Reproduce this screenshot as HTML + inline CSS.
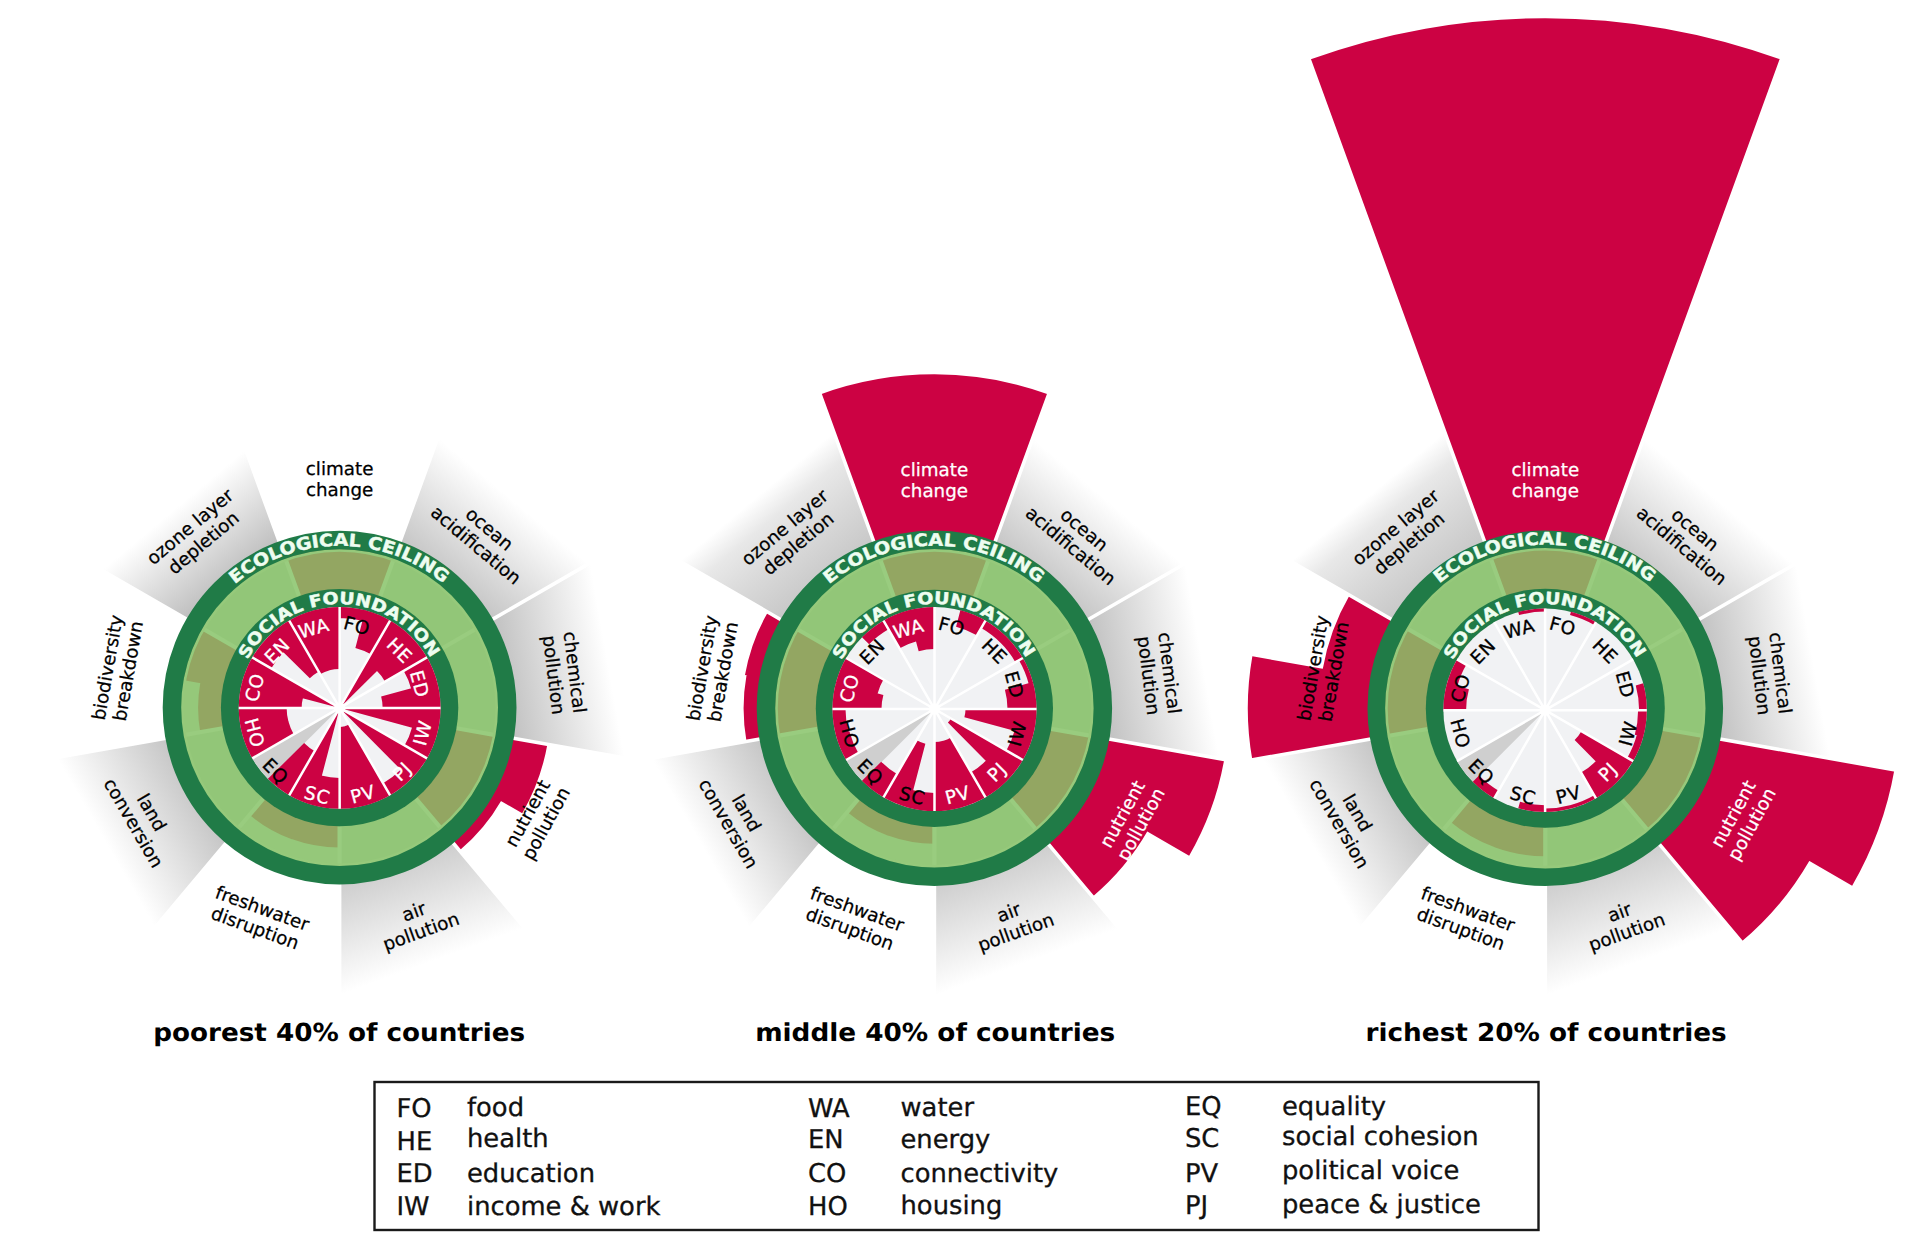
<!DOCTYPE html>
<html lang="en"><head><meta charset="utf-8"><title>Doughnut by country income group</title>
<style>html,body{margin:0;padding:0;background:#fff}body{width:1920px;height:1259px;overflow:hidden}svg{display:block}</style>
</head><body>
<svg width="1920" height="1259" viewBox="0 0 1920 1259" text-rendering="geometricPrecision">
<rect width="1920" height="1259" fill="#fff"/>
<linearGradient id="ga1" gradientUnits="userSpaceOnUse" x1="0" y1="557.6" x2="0" y2="437.6"><stop offset="0" stop-color="#bdbdbd"/><stop offset="1" stop-color="#ffffff"/></linearGradient>
<path transform="rotate(40 339.6 707.6)" d="M238.36 429.45A296 296 0 0 1 440.84 429.45L399.42 543.25A174.9 174.9 0 0 0 279.78 543.25Z" fill="url(#ga1)"/>
<linearGradient id="ga2" gradientUnits="userSpaceOnUse" x1="0" y1="557.6" x2="0" y2="435.6"><stop offset="0" stop-color="#b8b8b8"/><stop offset="1" stop-color="#ffffff"/></linearGradient>
<path transform="rotate(80 339.6 707.6)" d="M238.36 429.45A296 296 0 0 1 440.84 429.45L399.42 543.25A174.9 174.9 0 0 0 279.78 543.25Z" fill="url(#ga2)"/>
<linearGradient id="ga4" gradientUnits="userSpaceOnUse" x1="0" y1="557.6" x2="0" y2="437.6"><stop offset="0" stop-color="#c6c6c6"/><stop offset="1" stop-color="#ffffff"/></linearGradient>
<path transform="rotate(160 339.6 707.6)" d="M238.36 429.45A296 296 0 0 1 440.84 429.45L399.42 543.25A174.9 174.9 0 0 0 279.78 543.25Z" fill="url(#ga4)"/>
<linearGradient id="ga6" gradientUnits="userSpaceOnUse" x1="0" y1="557.6" x2="0" y2="437.6"><stop offset="0" stop-color="#bdbdbd"/><stop offset="1" stop-color="#ffffff"/></linearGradient>
<path transform="rotate(240 339.6 707.6)" d="M238.36 429.45A296 296 0 0 1 440.84 429.45L399.42 543.25A174.9 174.9 0 0 0 279.78 543.25Z" fill="url(#ga6)"/>
<linearGradient id="ga8" gradientUnits="userSpaceOnUse" x1="0" y1="557.6" x2="0" y2="449.6"><stop offset="0" stop-color="#b4b4b4"/><stop offset="1" stop-color="#ffffff"/></linearGradient>
<path transform="rotate(320 339.6 707.6)" d="M238.36 429.45A296 296 0 0 1 440.84 429.45L399.42 543.25A174.9 174.9 0 0 0 279.78 543.25Z" fill="url(#ga8)"/>
<path d="M547.39 744.24A211 211 0 0 1 522.24 813.26L490.99 795.18A174.9 174.9 0 0 0 511.84 737.97ZM501.2 800.71A186.5 186.5 0 0 1 459.48 850.47L452.02 841.58A174.9 174.9 0 0 0 491.14 794.92Z" fill="#cc0243"/>
<path d="M279.78 543.25L236.99 425.69M399.42 543.25L442.21 425.69M491.07 620.15L599.41 557.6M511.84 737.97L635.04 759.69M452.02 841.58L532.44 937.41M339.6 882.5L339.6 1007.6M227.18 841.58L146.76 937.41M167.36 737.97L44.16 759.69M188.13 620.15L79.79 557.6" stroke="#fff" stroke-width="3.6" fill="none"/>
<circle cx="339.6" cy="707.6" r="159.4" fill="#92c678"/>
<path d="M285.08 557.81A159.4 159.4 0 0 1 394.12 557.81L379.51 597.94A116.7 116.7 0 0 0 299.69 597.94ZM496.58 735.28A159.4 159.4 0 0 1 442.06 829.71L414.61 797A116.7 116.7 0 0 0 454.53 727.86ZM339.6 867A159.4 159.4 0 0 1 237.14 829.71L264.59 797A116.7 116.7 0 0 0 339.6 824.3ZM182.62 735.28A159.4 159.4 0 0 1 201.56 627.9L238.53 649.25A116.7 116.7 0 0 0 224.67 727.86Z" fill="#95c87a"/>
<path d="M284.95 557.86A159.4 159.4 0 0 1 339.74 548.2L339.7 590.9A116.7 116.7 0 0 0 299.59 597.97ZM339.46 548.2A159.4 159.4 0 0 1 394.25 557.86L379.61 597.97A116.7 116.7 0 0 0 339.5 590.9ZM496.6 735.14A159.4 159.4 0 0 1 477.57 787.42L440.61 766.04A116.7 116.7 0 0 0 454.54 727.76ZM477.71 787.18A159.4 159.4 0 0 1 441.95 829.8L414.54 797.06A116.7 116.7 0 0 0 440.72 765.86ZM339.72 847.6A140 140 0 0 1 291.6 839.12L299.59 817.23A116.7 116.7 0 0 0 339.7 824.3ZM291.83 839.2A140 140 0 0 1 249.52 814.77L264.51 796.93A116.7 116.7 0 0 0 299.78 817.3ZM200.27 732.29A141.5 141.5 0 0 1 200.27 682.91L224.69 687.23A116.7 116.7 0 0 0 224.69 727.97ZM182.6 680.06A159.4 159.4 0 0 1 201.63 627.78L238.59 649.16A116.7 116.7 0 0 0 224.66 687.44Z" fill="#93a662"/>
<path d="M299 596.06L285.42 558.75M380.2 596.06L393.78 558.75M442.4 648.25L476.78 628.4M456.5 728.21L495.59 735.11M415.9 798.53L441.42 828.94M339.6 826.3L339.6 866M263.3 798.53L237.78 828.94M222.7 728.21L183.61 735.11M236.8 648.25L202.42 628.4" stroke="#99cc7f" stroke-width="4.2" fill="none"/>
<circle cx="339.6" cy="707.6" r="157.1" fill="none" stroke="#96c97b" stroke-width="2.6"/>
<circle cx="339.6" cy="707.6" r="167.65" fill="none" stroke="#207b47" stroke-width="18.5"/>
<circle cx="339.6" cy="707.6" r="118.7" fill="#207b47"/>
<circle cx="339.65" cy="707.9" r="100.9" fill="#f1f2f4"/>
<path d="M339.65 707.9L268.3 779.25A100.9 100.9 0 0 1 252.27 758.35Z" fill="#cfcfcf"/>
<path d="M339.12 607A100.9 100.9 0 0 1 366.27 610.58L363.4 621.09A90 90 0 0 0 339.18 617.9ZM365.25 610.3A100.9 100.9 0 0 1 390.56 620.78L370.93 654.37A62 62 0 0 0 355.38 647.93ZM339.65 707.9L389.64 620.26A100.9 100.9 0 0 1 411.37 636.93ZM410.62 636.18A100.9 100.9 0 0 1 427.29 657.91L385.25 681.89A52.5 52.5 0 0 0 376.58 670.58ZM426.77 656.99A100.9 100.9 0 0 1 437.25 682.3L411.23 689.12A74 74 0 0 0 403.54 670.56ZM436.97 681.28A100.9 100.9 0 0 1 440.55 708.43L382.65 708.13A43 43 0 0 0 381.13 696.55ZM339.65 707.9L440.55 707.37A100.9 100.9 0 0 1 436.97 734.52ZM437.25 733.5A100.9 100.9 0 0 1 426.77 758.81L404.4 745.74A75 75 0 0 0 412.2 726.93ZM339.65 707.9L427.29 757.89A100.9 100.9 0 0 1 410.62 779.62ZM411.37 778.87A100.9 100.9 0 0 1 389.64 795.54L382.75 783.47A87 87 0 0 0 401.49 769.1ZM390.56 795.02A100.9 100.9 0 0 1 365.25 805.5L344.47 726.28A19 19 0 0 0 349.24 724.3ZM366.27 805.22A100.9 100.9 0 0 1 339.12 808.8L339.55 726.9A19 19 0 0 0 344.66 726.23ZM340.18 808.8A100.9 100.9 0 0 1 313.03 805.22L321.18 775.42A70 70 0 0 0 340.02 777.9ZM339.65 707.9L314.05 805.5A100.9 100.9 0 0 1 288.74 795.02ZM289.66 795.54A100.9 100.9 0 0 1 267.93 778.87L304.11 743.07A50 50 0 0 0 314.88 751.33ZM252.53 758.81A100.9 100.9 0 0 1 242.05 733.5L288.38 721.35A53 53 0 0 0 293.89 734.64ZM242.33 734.52A100.9 100.9 0 0 1 238.75 707.37L286.65 707.62A53 53 0 0 0 288.53 721.89ZM238.75 708.43A100.9 100.9 0 0 1 242.33 681.28L303 697.87A38 38 0 0 0 301.65 708.1ZM339.65 707.9L242.05 682.3A100.9 100.9 0 0 1 252.53 656.99ZM252.01 657.91A100.9 100.9 0 0 1 268.68 636.18L284.08 651.75A79 79 0 0 0 271.03 668.76ZM267.93 636.93A100.9 100.9 0 0 1 289.66 620.26L318.84 671.42A42 42 0 0 0 309.8 678.36ZM288.74 620.78A100.9 100.9 0 0 1 314.05 610.3L329.75 670.18A39 39 0 0 0 319.97 674.23ZM313.03 610.58A100.9 100.9 0 0 1 340.18 607L339.85 668.9A39 39 0 0 0 329.36 670.28Z" fill="#cc0243"/>
<path d="M339.65 707.9L339.65 607M339.65 707.9L390.1 620.52M339.65 707.9L427.03 657.45M339.65 707.9L440.55 707.9M339.65 707.9L427.03 758.35M339.65 707.9L390.1 795.28M339.65 707.9L339.65 808.8M339.65 707.9L289.2 795.28M339.65 707.9L252.27 758.35M339.65 707.9L238.75 707.9M339.65 707.9L252.27 657.45M339.65 707.9L289.2 620.52" stroke="#fff" stroke-width="2.5" fill="none"/>
<circle cx="339.65" cy="707.9" r="5.5" fill="#fff"/>
<path id="pea" d="M234.95 584.2A161.8 161.8 0 0 1 443.6 583.65" fill="none"/>
<text font-family="'DejaVu Sans','Liberation Sans',sans-serif" font-weight="bold" font-size="17.2" fill="#eefdf0" stroke="#eefdf0" stroke-width=".45" stroke-linejoin="round"><textPath href="#pea" textLength="226.26" lengthAdjust="spacingAndGlyphs">ECOLOGICAL CEILING</textPath></text>
<path id="psa" d="M247.62 659.92A103.6 103.6 0 0 1 430.73 658.33" fill="none"/>
<text font-family="'DejaVu Sans','Liberation Sans',sans-serif" font-weight="bold" font-size="16.6" fill="#eefdf0" stroke="#eefdf0" stroke-width=".45" stroke-linejoin="round"><textPath href="#psa" textLength="224.07" lengthAdjust="spacingAndGlyphs">SOCIAL FOUNDATION</textPath></text>
<text transform="translate(357.06 625.44) rotate(15)" y="6.7" text-anchor="middle" font-family="'DejaVu Sans','Liberation Sans',sans-serif" font-size="18.4" letter-spacing=".7" fill="#000" stroke="#000" stroke-width=".3">FO</text>
<text transform="translate(399.81 650.47) rotate(45)" y="6.7" text-anchor="middle" font-family="'DejaVu Sans','Liberation Sans',sans-serif" font-size="18.4" letter-spacing=".7" fill="#fff" stroke="#fff" stroke-width=".3">HE</text>
<text transform="translate(419.7 684.02) rotate(75)" y="6.7" text-anchor="middle" font-family="'DejaVu Sans','Liberation Sans',sans-serif" font-size="18.4" letter-spacing=".7" fill="#fff" stroke="#fff" stroke-width=".3">ED</text>
<text transform="translate(422.32 732.89) rotate(-75)" y="6.7" text-anchor="middle" font-family="'DejaVu Sans','Liberation Sans',sans-serif" font-size="18.4" letter-spacing=".7" fill="#fff" stroke="#fff" stroke-width=".3">IW</text>
<text transform="translate(401.87 771.19) rotate(-45)" y="6.7" text-anchor="middle" font-family="'DejaVu Sans','Liberation Sans',sans-serif" font-size="18.4" letter-spacing=".7" fill="#fff" stroke="#fff" stroke-width=".3">PJ</text>
<text transform="translate(362.76 794.05) rotate(-15)" y="6.7" text-anchor="middle" font-family="'DejaVu Sans','Liberation Sans',sans-serif" font-size="18.4" letter-spacing=".7" fill="#fff" stroke="#fff" stroke-width=".3">PV</text>
<text transform="translate(317.37 794.81) rotate(15)" y="6.7" text-anchor="middle" font-family="'DejaVu Sans','Liberation Sans',sans-serif" font-size="18.4" letter-spacing=".7" fill="#fff" stroke="#fff" stroke-width=".3">SC</text>
<text transform="translate(275.74 771.02) rotate(45)" y="6.7" text-anchor="middle" font-family="'DejaVu Sans','Liberation Sans',sans-serif" font-size="18.4" letter-spacing=".7" fill="#000" stroke="#000" stroke-width=".3">EQ</text>
<text transform="translate(254.79 732.88) rotate(75)" y="6.7" text-anchor="middle" font-family="'DejaVu Sans','Liberation Sans',sans-serif" font-size="18.4" letter-spacing=".7" fill="#fff" stroke="#fff" stroke-width=".3">HO</text>
<text transform="translate(254.54 687.49) rotate(-75)" y="6.7" text-anchor="middle" font-family="'DejaVu Sans','Liberation Sans',sans-serif" font-size="18.4" letter-spacing=".7" fill="#fff" stroke="#fff" stroke-width=".3">CO</text>
<text transform="translate(277.1 650.73) rotate(-45)" y="6.7" text-anchor="middle" font-family="'DejaVu Sans','Liberation Sans',sans-serif" font-size="18.4" letter-spacing=".7" fill="#fff" stroke="#fff" stroke-width=".3">EN</text>
<text transform="translate(313.7 627.9) rotate(-15)" y="6.7" text-anchor="middle" font-family="'DejaVu Sans','Liberation Sans',sans-serif" font-size="18.4" letter-spacing=".7" fill="#fff" stroke="#fff" stroke-width=".3">WA</text>
<g transform="translate(339.6 479.6) rotate(0)" text-anchor="middle" font-family="'DejaVu Sans','Liberation Sans',sans-serif" font-size="18.3" fill="#000" stroke="#000" stroke-width=".25"><text y="-4.5">climate</text><text y="16.5">change</text></g>
<g transform="translate(482.49 537.31) rotate(40)" text-anchor="middle" font-family="'DejaVu Sans','Liberation Sans',sans-serif" font-size="18.3" fill="#000" stroke="#000" stroke-width=".25"><text y="-4.5">ocean</text><text y="16.5">acidification</text></g>
<g transform="translate(564.05 673.66) rotate(83)" text-anchor="middle" font-family="'DejaVu Sans','Liberation Sans',sans-serif" font-size="18.3" fill="#000" stroke="#000" stroke-width=".25"><text y="-4.5">chemical</text><text y="16.5">pollution</text></g>
<g transform="translate(537.03 818.62) rotate(-61.3)" text-anchor="middle" font-family="'DejaVu Sans','Liberation Sans',sans-serif" font-size="18.3" fill="#000" stroke="#000" stroke-width=".25"><text y="-4.5">nutrient</text><text y="16.5">pollution</text></g>
<g transform="translate(417.58 921.85) rotate(-20)" text-anchor="middle" font-family="'DejaVu Sans','Liberation Sans',sans-serif" font-size="18.3" fill="#000" stroke="#000" stroke-width=".25"><text y="-4.5">air</text><text y="16.5">pollution</text></g>
<g transform="translate(258.61 918.59) rotate(20)" text-anchor="middle" font-family="'DejaVu Sans','Liberation Sans',sans-serif" font-size="18.3" fill="#000" stroke="#000" stroke-width=".25"><text y="-4.5">freshwater</text><text y="16.5">disruption</text></g>
<g transform="translate(142.32 817.86) rotate(60)" text-anchor="middle" font-family="'DejaVu Sans','Liberation Sans',sans-serif" font-size="18.3" fill="#000" stroke="#000" stroke-width=".25"><text y="-4.5">land</text><text y="16.5">conversion</text></g>
<g transform="translate(118.08 669.34) rotate(-80)" text-anchor="middle" font-family="'DejaVu Sans','Liberation Sans',sans-serif" font-size="18.3" fill="#000" stroke="#000" stroke-width=".25"><text y="-4.5">biodiversity</text><text y="16.5">breakdown</text></g>
<g transform="translate(196.82 535.01) rotate(-40)" text-anchor="middle" font-family="'DejaVu Sans','Liberation Sans',sans-serif" font-size="18.3" fill="#000" stroke="#000" stroke-width=".25"><text y="-4.5">ozone layer</text><text y="16.5">depletion</text></g>
<linearGradient id="gb1" gradientUnits="userSpaceOnUse" x1="0" y1="558.3" x2="0" y2="438.3"><stop offset="0" stop-color="#bdbdbd"/><stop offset="1" stop-color="#ffffff"/></linearGradient>
<path transform="rotate(40 934.4 708.3)" d="M833.16 430.15A296 296 0 0 1 1035.64 430.15L994.49 543.2A175.7 175.7 0 0 0 874.31 543.2Z" fill="url(#gb1)"/>
<linearGradient id="gb2" gradientUnits="userSpaceOnUse" x1="0" y1="558.3" x2="0" y2="436.3"><stop offset="0" stop-color="#b8b8b8"/><stop offset="1" stop-color="#ffffff"/></linearGradient>
<path transform="rotate(80 934.4 708.3)" d="M833.16 430.15A296 296 0 0 1 1035.64 430.15L994.49 543.2A175.7 175.7 0 0 0 874.31 543.2Z" fill="url(#gb2)"/>
<linearGradient id="gb4" gradientUnits="userSpaceOnUse" x1="0" y1="558.3" x2="0" y2="438.3"><stop offset="0" stop-color="#c6c6c6"/><stop offset="1" stop-color="#ffffff"/></linearGradient>
<path transform="rotate(160 934.4 708.3)" d="M833.16 430.15A296 296 0 0 1 1035.64 430.15L994.49 543.2A175.7 175.7 0 0 0 874.31 543.2Z" fill="url(#gb4)"/>
<linearGradient id="gb6" gradientUnits="userSpaceOnUse" x1="0" y1="558.3" x2="0" y2="438.3"><stop offset="0" stop-color="#bdbdbd"/><stop offset="1" stop-color="#ffffff"/></linearGradient>
<path transform="rotate(240 934.4 708.3)" d="M833.16 430.15A296 296 0 0 1 1035.64 430.15L994.49 543.2A175.7 175.7 0 0 0 874.31 543.2Z" fill="url(#gb6)"/>
<linearGradient id="gb8" gradientUnits="userSpaceOnUse" x1="0" y1="558.3" x2="0" y2="432.3"><stop offset="0" stop-color="#c2c2c2"/><stop offset="0.52" stop-color="#dadada"/><stop offset="0.79" stop-color="#e8e8e8"/><stop offset="1" stop-color="#ffffff"/></linearGradient>
<path transform="rotate(320 934.4 708.3)" d="M833.16 430.15A296 296 0 0 1 1035.64 430.15L994.49 543.2A175.7 175.7 0 0 0 874.31 543.2Z" fill="url(#gb8)"/>
<path d="M820.17 394.44A334 334 0 0 1 1048.63 394.44L994.49 543.2A175.7 175.7 0 0 0 874.31 543.2ZM1224.23 759.4A294.3 294.3 0 0 1 1189.14 855.67L1086.48 796.28A175.7 175.7 0 0 0 1107.43 738.81ZM1147.55 831.11A246 246 0 0 1 1092.53 896.75L1047.34 842.89A175.7 175.7 0 0 0 1086.64 796.02ZM746.5 741.43A190.8 190.8 0 0 1 746.53 675L761.4 677.64A175.7 175.7 0 0 0 761.37 738.81ZM744.99 675.07A192.3 192.3 0 0 1 767.86 612.15L782.24 620.45A175.7 175.7 0 0 0 761.34 677.94Z" fill="#cc0243"/>
<path d="M874.31 543.2L819.82 393.5M994.49 543.2L1048.98 393.5M1086.56 620.45L1194.21 558.3M1107.43 738.81L1229.84 760.39M1047.34 842.89L1127.24 938.11M934.4 884L934.4 1008.3M821.46 842.89L741.56 938.11M761.37 738.81L638.96 760.39M782.24 620.45L674.59 558.3" stroke="#fff" stroke-width="3.6" fill="none"/>
<circle cx="934.4" cy="708.3" r="160.2" fill="#92c678"/>
<path d="M879.61 557.76A160.2 160.2 0 0 1 989.19 557.76L974.28 598.73A116.6 116.6 0 0 0 894.52 598.73ZM1092.17 736.12A160.2 160.2 0 0 1 1037.37 831.02L1009.35 797.62A116.6 116.6 0 0 0 1049.23 728.55ZM934.4 868.5A160.2 160.2 0 0 1 831.43 831.02L859.45 797.62A116.6 116.6 0 0 0 934.4 824.9ZM776.63 736.12A160.2 160.2 0 0 1 795.66 628.2L833.42 650A116.6 116.6 0 0 0 819.57 728.55Z" fill="#95c87a"/>
<path d="M879.48 557.81A160.2 160.2 0 0 1 934.54 548.1L934.5 591.7A116.6 116.6 0 0 0 894.42 598.77ZM934.26 548.1A160.2 160.2 0 0 1 989.32 557.81L974.38 598.77A116.6 116.6 0 0 0 934.3 591.7ZM1092.19 735.98A160.2 160.2 0 0 1 1073.07 788.52L1035.33 766.69A116.6 116.6 0 0 0 1049.25 728.45ZM1073.21 788.28A160.2 160.2 0 0 1 1037.27 831.11L1009.27 797.69A116.6 116.6 0 0 0 1035.43 766.51ZM934.52 843.8A135.5 135.5 0 0 1 887.95 835.59L894.42 817.83A116.6 116.6 0 0 0 934.5 824.9ZM888.17 835.67A135.5 135.5 0 0 1 847.21 812.02L859.37 797.56A116.6 116.6 0 0 0 894.62 817.9ZM776.66 736.26A160.2 160.2 0 0 1 776.66 680.34L819.59 687.95A116.6 116.6 0 0 0 819.59 728.65ZM776.61 680.62A160.2 160.2 0 0 1 795.73 628.08L833.47 649.91A116.6 116.6 0 0 0 819.55 688.15Z" fill="#93a662"/>
<path d="M893.84 596.85L879.95 558.7M974.96 596.85L988.85 558.7M1037.11 649L1072.27 628.7M1051.2 728.89L1091.18 735.94M1010.63 799.15L1036.73 830.25M934.4 826.9L934.4 867.5M858.17 799.15L832.07 830.25M817.6 728.89L777.62 735.94M831.69 649L796.53 628.7" stroke="#99cc7f" stroke-width="4.2" fill="none"/>
<circle cx="934.4" cy="708.3" r="157.9" fill="none" stroke="#96c97b" stroke-width="2.6"/>
<circle cx="934.4" cy="708.3" r="168.45" fill="none" stroke="#207b47" stroke-width="18.5"/>
<circle cx="934.4" cy="708.3" r="118.6" fill="#207b47"/>
<circle cx="934.5" cy="709" r="102" fill="#f1f2f4"/>
<path d="M934.5 709L862.38 781.12A102 102 0 0 1 846.17 760Z" fill="#cfcfcf"/>
<path d="M960.38 610.34A102 102 0 0 1 985.96 620.93L977.38 635.61A85 85 0 0 0 956.07 626.78ZM985.04 620.4A102 102 0 0 1 1007 637.25L1000.96 643.23A93.5 93.5 0 0 0 980.83 627.78ZM1006.25 636.5A102 102 0 0 1 1023.1 658.46L1015.72 662.67A93.5 93.5 0 0 0 1000.27 642.54ZM1022.57 657.54A102 102 0 0 1 1033.16 683.12L1028.81 684.26A97.5 97.5 0 0 0 1018.68 659.81ZM1032.88 682.08A102 102 0 0 1 1036.5 709.53L1007.5 709.38A73 73 0 0 0 1004.91 689.74ZM1036.5 708.47A102 102 0 0 1 1032.88 735.92L964.4 717.18A31 31 0 0 0 965.5 708.84ZM1033.16 734.88A102 102 0 0 1 1022.57 760.46L1006.16 750.88A83 83 0 0 0 1014.78 730.06ZM1023.1 759.54A102 102 0 0 1 1006.25 781.5L947.86 722.51A19 19 0 0 0 951 718.41ZM1007 780.75A102 102 0 0 1 985.04 797.6L970.67 772.41A73 73 0 0 0 986.39 760.35ZM985.96 797.07A102 102 0 0 1 960.38 807.66L942.87 740.92A33 33 0 0 0 951.15 737.49ZM961.42 807.38A102 102 0 0 1 933.97 811L934.33 742A33 33 0 0 0 943.21 740.83ZM935.03 811A102 102 0 0 1 907.58 807.38L912.33 790.02A84 84 0 0 0 934.94 793ZM908.62 807.66A102 102 0 0 1 883.04 797.07L916.34 740.08A36 36 0 0 0 925.36 743.82ZM883.96 797.6A102 102 0 0 1 862 780.75L881.19 761.75A75 75 0 0 0 897.34 774.15ZM846.43 760.46A102 102 0 0 1 835.84 734.88L849.38 731.33A88 88 0 0 0 858.52 753.4ZM836.12 735.92A102 102 0 0 1 832.5 708.47L845.5 708.53A89 89 0 0 0 848.65 732.48ZM832.5 709.53A102 102 0 0 1 836.12 682.08L883.38 695.01A53 53 0 0 0 881.5 709.28ZM835.84 683.12A102 102 0 0 1 846.43 657.54L883.56 679.23A59 59 0 0 0 877.43 694.03ZM862 637.25A102 102 0 0 1 883.96 620.4L888.92 629.09A92 92 0 0 0 869.11 644.29ZM883.04 620.93A102 102 0 0 1 908.62 610.34L916.74 641.29A70 70 0 0 0 899.18 648.56ZM907.58 610.62A102 102 0 0 1 935.03 607L934.81 649A60 60 0 0 0 918.67 651.13Z" fill="#cc0243"/>
<path d="M934.5 709L934.5 607M934.5 709L985.5 620.67M934.5 709L1022.83 658M934.5 709L1036.5 709M934.5 709L1022.83 760M934.5 709L985.5 797.33M934.5 709L934.5 811M934.5 709L883.5 797.33M934.5 709L846.17 760M934.5 709L832.5 709M934.5 709L846.17 658M934.5 709L883.5 620.67" stroke="#fff" stroke-width="2.5" fill="none"/>
<circle cx="934.5" cy="709" r="5.5" fill="#fff"/>
<path id="peb" d="M829.23 584.29A162.6 162.6 0 0 1 1038.92 583.74" fill="none"/>
<text font-family="'DejaVu Sans','Liberation Sans',sans-serif" font-weight="bold" font-size="17.2" fill="#eefdf0" stroke="#eefdf0" stroke-width=".45" stroke-linejoin="round"><textPath href="#peb" textLength="227.38" lengthAdjust="spacingAndGlyphs">ECOLOGICAL CEILING</textPath></text>
<path id="psb" d="M841.71 660.26A104.4 104.4 0 0 1 1026.24 658.64" fill="none"/>
<text font-family="'DejaVu Sans','Liberation Sans',sans-serif" font-weight="bold" font-size="16.6" fill="#eefdf0" stroke="#eefdf0" stroke-width=".45" stroke-linejoin="round"><textPath href="#psb" textLength="225.81" lengthAdjust="spacingAndGlyphs">SOCIAL FOUNDATION</textPath></text>
<text transform="translate(951.86 626.14) rotate(15)" y="6.7" text-anchor="middle" font-family="'DejaVu Sans','Liberation Sans',sans-serif" font-size="18.4" letter-spacing=".7" fill="#000" stroke="#000" stroke-width=".3">FO</text>
<text transform="translate(994.61 651.17) rotate(45)" y="6.7" text-anchor="middle" font-family="'DejaVu Sans','Liberation Sans',sans-serif" font-size="18.4" letter-spacing=".7" fill="#000" stroke="#000" stroke-width=".3">HE</text>
<text transform="translate(1014.5 684.72) rotate(75)" y="6.7" text-anchor="middle" font-family="'DejaVu Sans','Liberation Sans',sans-serif" font-size="18.4" letter-spacing=".7" fill="#000" stroke="#000" stroke-width=".3">ED</text>
<text transform="translate(1017.12 733.59) rotate(-75)" y="6.7" text-anchor="middle" font-family="'DejaVu Sans','Liberation Sans',sans-serif" font-size="18.4" letter-spacing=".7" fill="#000" stroke="#000" stroke-width=".3">IW</text>
<text transform="translate(996.67 771.89) rotate(-45)" y="6.7" text-anchor="middle" font-family="'DejaVu Sans','Liberation Sans',sans-serif" font-size="18.4" letter-spacing=".7" fill="#fff" stroke="#fff" stroke-width=".3">PJ</text>
<text transform="translate(957.56 794.75) rotate(-15)" y="6.7" text-anchor="middle" font-family="'DejaVu Sans','Liberation Sans',sans-serif" font-size="18.4" letter-spacing=".7" fill="#fff" stroke="#fff" stroke-width=".3">PV</text>
<text transform="translate(912.17 795.51) rotate(15)" y="6.7" text-anchor="middle" font-family="'DejaVu Sans','Liberation Sans',sans-serif" font-size="18.4" letter-spacing=".7" fill="#000" stroke="#000" stroke-width=".3">SC</text>
<text transform="translate(870.54 771.72) rotate(45)" y="6.7" text-anchor="middle" font-family="'DejaVu Sans','Liberation Sans',sans-serif" font-size="18.4" letter-spacing=".7" fill="#000" stroke="#000" stroke-width=".3">EQ</text>
<text transform="translate(849.59 733.58) rotate(75)" y="6.7" text-anchor="middle" font-family="'DejaVu Sans','Liberation Sans',sans-serif" font-size="18.4" letter-spacing=".7" fill="#000" stroke="#000" stroke-width=".3">HO</text>
<text transform="translate(849.34 688.19) rotate(-75)" y="6.7" text-anchor="middle" font-family="'DejaVu Sans','Liberation Sans',sans-serif" font-size="18.4" letter-spacing=".7" fill="#fff" stroke="#fff" stroke-width=".3">CO</text>
<text transform="translate(871.9 651.43) rotate(-45)" y="6.7" text-anchor="middle" font-family="'DejaVu Sans','Liberation Sans',sans-serif" font-size="18.4" letter-spacing=".7" fill="#000" stroke="#000" stroke-width=".3">EN</text>
<text transform="translate(908.5 628.6) rotate(-15)" y="6.7" text-anchor="middle" font-family="'DejaVu Sans','Liberation Sans',sans-serif" font-size="18.4" letter-spacing=".7" fill="#fff" stroke="#fff" stroke-width=".3">WA</text>
<g transform="translate(934.4 480.3) rotate(0)" text-anchor="middle" font-family="'DejaVu Sans','Liberation Sans',sans-serif" font-size="18.3" fill="#fff" stroke="#fff" stroke-width=".25"><text y="-4.5">climate</text><text y="16.5">change</text></g>
<g transform="translate(1077.29 538.01) rotate(40)" text-anchor="middle" font-family="'DejaVu Sans','Liberation Sans',sans-serif" font-size="18.3" fill="#000" stroke="#000" stroke-width=".25"><text y="-4.5">ocean</text><text y="16.5">acidification</text></g>
<g transform="translate(1158.85 674.36) rotate(83)" text-anchor="middle" font-family="'DejaVu Sans','Liberation Sans',sans-serif" font-size="18.3" fill="#000" stroke="#000" stroke-width=".25"><text y="-4.5">chemical</text><text y="16.5">pollution</text></g>
<g transform="translate(1131.83 819.32) rotate(-61.3)" text-anchor="middle" font-family="'DejaVu Sans','Liberation Sans',sans-serif" font-size="18.3" fill="#fff" stroke="#fff" stroke-width=".25"><text y="-4.5">nutrient</text><text y="16.5">pollution</text></g>
<g transform="translate(1012.38 922.55) rotate(-20)" text-anchor="middle" font-family="'DejaVu Sans','Liberation Sans',sans-serif" font-size="18.3" fill="#000" stroke="#000" stroke-width=".25"><text y="-4.5">air</text><text y="16.5">pollution</text></g>
<g transform="translate(853.41 919.29) rotate(20)" text-anchor="middle" font-family="'DejaVu Sans','Liberation Sans',sans-serif" font-size="18.3" fill="#000" stroke="#000" stroke-width=".25"><text y="-4.5">freshwater</text><text y="16.5">disruption</text></g>
<g transform="translate(737.12 818.56) rotate(60)" text-anchor="middle" font-family="'DejaVu Sans','Liberation Sans',sans-serif" font-size="18.3" fill="#000" stroke="#000" stroke-width=".25"><text y="-4.5">land</text><text y="16.5">conversion</text></g>
<g transform="translate(712.88 670.04) rotate(-80)" text-anchor="middle" font-family="'DejaVu Sans','Liberation Sans',sans-serif" font-size="18.3" fill="#000" stroke="#000" stroke-width=".25"><text y="-4.5">biodiversity</text><text y="16.5">breakdown</text></g>
<g transform="translate(791.62 535.71) rotate(-40)" text-anchor="middle" font-family="'DejaVu Sans','Liberation Sans',sans-serif" font-size="18.3" fill="#000" stroke="#000" stroke-width=".25"><text y="-4.5">ozone layer</text><text y="16.5">depletion</text></g>
<linearGradient id="gc1" gradientUnits="userSpaceOnUse" x1="0" y1="558.2" x2="0" y2="438.2"><stop offset="0" stop-color="#bdbdbd"/><stop offset="1" stop-color="#ffffff"/></linearGradient>
<path transform="rotate(40 1545.3 708.2)" d="M1444.06 430.05A296 296 0 0 1 1646.54 430.05L1605.43 543A175.8 175.8 0 0 0 1485.17 543Z" fill="url(#gc1)"/>
<linearGradient id="gc2" gradientUnits="userSpaceOnUse" x1="0" y1="558.2" x2="0" y2="436.2"><stop offset="0" stop-color="#b8b8b8"/><stop offset="1" stop-color="#ffffff"/></linearGradient>
<path transform="rotate(80 1545.3 708.2)" d="M1444.06 430.05A296 296 0 0 1 1646.54 430.05L1605.43 543A175.8 175.8 0 0 0 1485.17 543Z" fill="url(#gc2)"/>
<linearGradient id="gc4" gradientUnits="userSpaceOnUse" x1="0" y1="558.2" x2="0" y2="438.2"><stop offset="0" stop-color="#c6c6c6"/><stop offset="1" stop-color="#ffffff"/></linearGradient>
<path transform="rotate(160 1545.3 708.2)" d="M1444.06 430.05A296 296 0 0 1 1646.54 430.05L1605.43 543A175.8 175.8 0 0 0 1485.17 543Z" fill="url(#gc4)"/>
<linearGradient id="gc6" gradientUnits="userSpaceOnUse" x1="0" y1="558.2" x2="0" y2="438.2"><stop offset="0" stop-color="#bdbdbd"/><stop offset="1" stop-color="#ffffff"/></linearGradient>
<path transform="rotate(240 1545.3 708.2)" d="M1444.06 430.05A296 296 0 0 1 1646.54 430.05L1605.43 543A175.8 175.8 0 0 0 1485.17 543Z" fill="url(#gc6)"/>
<linearGradient id="gc8" gradientUnits="userSpaceOnUse" x1="0" y1="558.2" x2="0" y2="432.2"><stop offset="0" stop-color="#c2c2c2"/><stop offset="0.52" stop-color="#dadada"/><stop offset="0.79" stop-color="#e8e8e8"/><stop offset="1" stop-color="#ffffff"/></linearGradient>
<path transform="rotate(320 1545.3 708.2)" d="M1444.06 430.05A296 296 0 0 1 1646.54 430.05L1605.43 543A175.8 175.8 0 0 0 1485.17 543Z" fill="url(#gc8)"/>
<path d="M1309.31 59.81A690 690 0 0 1 1781.29 59.81L1605.43 543A175.8 175.8 0 0 0 1485.17 543ZM1894.41 769.76A354.5 354.5 0 0 1 1852.15 885.72L1697.47 796.23A175.8 175.8 0 0 0 1718.43 738.73ZM1809.57 860.47A305 305 0 0 1 1741.35 941.84L1658.3 842.87A175.8 175.8 0 0 0 1697.62 795.97ZM1252.32 759.86A297.5 297.5 0 0 1 1252.36 656.28L1372.2 677.52A175.8 175.8 0 0 0 1372.17 738.73ZM1322.7 669.15A226 226 0 0 1 1349.58 595.2L1393.05 620.3A175.8 175.8 0 0 0 1372.14 677.82Z" fill="#cc0243"/>
<path d="M1485.17 543L1308.96 58.87M1605.43 543L1781.64 58.87M1697.55 620.3L1805.11 558.2M1718.43 738.73L1895.4 769.93M1658.3 842.87L1741.99 942.61M1545.3 884L1545.3 1008.2M1432.3 842.87L1352.46 938.01M1372.17 738.73L1249.86 760.29M1393.05 620.3L1285.49 558.2" stroke="#fff" stroke-width="3.6" fill="none"/>
<circle cx="1545.3" cy="708.2" r="161.2" fill="#92c678"/>
<path d="M1490.17 556.72A161.2 161.2 0 0 1 1600.43 556.72L1585.49 597.79A117.5 117.5 0 0 0 1505.11 597.79ZM1704.05 736.19A161.2 161.2 0 0 1 1648.92 831.69L1620.83 798.21A117.5 117.5 0 0 0 1661.01 728.6ZM1545.3 869.4A161.2 161.2 0 0 1 1441.68 831.69L1469.77 798.21A117.5 117.5 0 0 0 1545.3 825.7ZM1386.55 736.19A161.2 161.2 0 0 1 1405.7 627.6L1443.54 649.45A117.5 117.5 0 0 0 1429.59 728.6Z" fill="#95c87a"/>
<path d="M1490.03 556.77A161.2 161.2 0 0 1 1545.44 547L1545.4 590.7A117.5 117.5 0 0 0 1505.02 597.82ZM1545.16 547A161.2 161.2 0 0 1 1600.57 556.77L1585.58 597.82A117.5 117.5 0 0 0 1545.2 590.7ZM1704.08 736.05A161.2 161.2 0 0 1 1684.83 788.92L1647.01 767.04A117.5 117.5 0 0 0 1661.03 728.5ZM1684.97 788.68A161.2 161.2 0 0 1 1648.81 831.78L1620.75 798.28A117.5 117.5 0 0 0 1647.11 766.86ZM1545.43 856.2A148 148 0 0 1 1494.56 847.23L1505.02 818.58A117.5 117.5 0 0 0 1545.4 825.7ZM1494.8 847.32A148 148 0 0 1 1450.07 821.49L1469.69 798.14A117.5 117.5 0 0 0 1505.21 818.65ZM1386.57 736.33A161.2 161.2 0 0 1 1386.57 680.07L1429.6 687.7A117.5 117.5 0 0 0 1429.6 728.7ZM1386.52 680.35A161.2 161.2 0 0 1 1405.77 627.48L1443.59 649.36A117.5 117.5 0 0 0 1429.57 687.9Z" fill="#93a662"/>
<path d="M1504.43 595.91L1490.51 557.66M1586.17 595.91L1600.09 557.66M1648.79 648.45L1684.04 628.1M1662.98 728.95L1703.07 736.02M1622.11 799.74L1648.27 830.92M1545.3 827.7L1545.3 868.4M1468.49 799.74L1442.33 830.92M1427.62 728.95L1387.53 736.02M1441.81 648.45L1406.56 628.1" stroke="#99cc7f" stroke-width="4.2" fill="none"/>
<circle cx="1545.3" cy="708.2" r="158.9" fill="none" stroke="#96c97b" stroke-width="2.6"/>
<circle cx="1545.3" cy="708.2" r="169" fill="none" stroke="#207b47" stroke-width="17.6"/>
<circle cx="1545.3" cy="708.2" r="119.5" fill="#207b47"/>
<circle cx="1545.1" cy="710.2" r="101.7" fill="#f1f2f4"/>
<path d="M1545.1 710.2L1473.19 782.11A101.7 101.7 0 0 1 1457.03 761.05Z" fill="#cfcfcf"/>
<path d="M1570.91 611.83A101.7 101.7 0 0 1 1596.41 622.39L1594.7 625.33A98.3 98.3 0 0 0 1570.04 615.12ZM1643.2 683.36A101.7 101.7 0 0 1 1646.8 710.73L1639.1 710.69A94 94 0 0 0 1635.77 685.4ZM1646.8 709.67A101.7 101.7 0 0 1 1643.2 737.04L1634.8 734.74A93 93 0 0 0 1638.1 709.71ZM1643.47 736.01A101.7 101.7 0 0 1 1632.91 761.51L1627.12 758.13A95 95 0 0 0 1636.99 734.31ZM1633.44 760.59A101.7 101.7 0 0 1 1616.64 782.49L1574.64 740.05A42 42 0 0 0 1581.58 731.01ZM1617.39 781.74A101.7 101.7 0 0 1 1595.49 798.54L1580.77 772.74A72 72 0 0 0 1596.28 760.84ZM1596.41 798.01A101.7 101.7 0 0 1 1570.91 808.57L1570.04 805.28A98.3 98.3 0 0 0 1594.7 795.07ZM1571.94 808.3A101.7 101.7 0 0 1 1544.57 811.9L1544.59 808.5A98.3 98.3 0 0 0 1571.04 805.02ZM1545.63 811.9A101.7 101.7 0 0 1 1518.26 808.3L1520.03 801.83A95 95 0 0 0 1545.6 805.2ZM1494.71 798.54A101.7 101.7 0 0 1 1472.81 781.74L1479 775.62A93 93 0 0 0 1499.02 790.98ZM1443.4 710.73A101.7 101.7 0 0 1 1447 683.36L1468.9 689.35A79 79 0 0 0 1466.1 710.61ZM1446.73 684.39A101.7 101.7 0 0 1 1457.29 658.89L1466.53 664.29A91 91 0 0 0 1457.08 687.11ZM1518.26 612.1A101.7 101.7 0 0 1 1545.63 608.5L1545.62 611.6A98.6 98.6 0 0 0 1519.08 615.09Z" fill="#cc0243"/>
<path d="M1545.1 710.2L1545.1 608.5M1545.1 710.2L1595.95 622.13M1545.1 710.2L1633.17 659.35M1545.1 710.2L1646.8 710.2M1545.1 710.2L1633.17 761.05M1545.1 710.2L1595.95 798.27M1545.1 710.2L1545.1 811.9M1545.1 710.2L1494.25 798.27M1545.1 710.2L1457.03 761.05M1545.1 710.2L1443.4 710.2M1545.1 710.2L1457.03 659.35M1545.1 710.2L1494.25 622.13" stroke="#fff" stroke-width="2.5" fill="none"/>
<circle cx="1545.1" cy="710.2" r="5.5" fill="#fff"/>
<path id="pec" d="M1439.49 583.43A163.6 163.6 0 0 1 1650.46 582.88" fill="none"/>
<text font-family="'DejaVu Sans','Liberation Sans',sans-serif" font-weight="bold" font-size="17.2" fill="#eefdf0" stroke="#eefdf0" stroke-width=".45" stroke-linejoin="round"><textPath href="#pec" textLength="228.79" lengthAdjust="spacingAndGlyphs">ECOLOGICAL CEILING</textPath></text>
<path id="psc" d="M1452.88 660.29A104.1 104.1 0 0 1 1636.87 658.69" fill="none"/>
<text font-family="'DejaVu Sans','Liberation Sans',sans-serif" font-weight="bold" font-size="16.6" fill="#eefdf0" stroke="#eefdf0" stroke-width=".45" stroke-linejoin="round"><textPath href="#psc" textLength="225.16" lengthAdjust="spacingAndGlyphs">SOCIAL FOUNDATION</textPath></text>
<text transform="translate(1562.76 626.04) rotate(15)" y="6.7" text-anchor="middle" font-family="'DejaVu Sans','Liberation Sans',sans-serif" font-size="18.4" letter-spacing=".7" fill="#000" stroke="#000" stroke-width=".3">FO</text>
<text transform="translate(1605.51 651.07) rotate(45)" y="6.7" text-anchor="middle" font-family="'DejaVu Sans','Liberation Sans',sans-serif" font-size="18.4" letter-spacing=".7" fill="#000" stroke="#000" stroke-width=".3">HE</text>
<text transform="translate(1625.4 684.62) rotate(75)" y="6.7" text-anchor="middle" font-family="'DejaVu Sans','Liberation Sans',sans-serif" font-size="18.4" letter-spacing=".7" fill="#000" stroke="#000" stroke-width=".3">ED</text>
<text transform="translate(1628.02 733.49) rotate(-75)" y="6.7" text-anchor="middle" font-family="'DejaVu Sans','Liberation Sans',sans-serif" font-size="18.4" letter-spacing=".7" fill="#000" stroke="#000" stroke-width=".3">IW</text>
<text transform="translate(1607.57 771.79) rotate(-45)" y="6.7" text-anchor="middle" font-family="'DejaVu Sans','Liberation Sans',sans-serif" font-size="18.4" letter-spacing=".7" fill="#fff" stroke="#fff" stroke-width=".3">PJ</text>
<text transform="translate(1568.46 794.65) rotate(-15)" y="6.7" text-anchor="middle" font-family="'DejaVu Sans','Liberation Sans',sans-serif" font-size="18.4" letter-spacing=".7" fill="#000" stroke="#000" stroke-width=".3">PV</text>
<text transform="translate(1523.07 795.41) rotate(15)" y="6.7" text-anchor="middle" font-family="'DejaVu Sans','Liberation Sans',sans-serif" font-size="18.4" letter-spacing=".7" fill="#000" stroke="#000" stroke-width=".3">SC</text>
<text transform="translate(1481.44 771.62) rotate(45)" y="6.7" text-anchor="middle" font-family="'DejaVu Sans','Liberation Sans',sans-serif" font-size="18.4" letter-spacing=".7" fill="#000" stroke="#000" stroke-width=".3">EQ</text>
<text transform="translate(1460.49 733.48) rotate(75)" y="6.7" text-anchor="middle" font-family="'DejaVu Sans','Liberation Sans',sans-serif" font-size="18.4" letter-spacing=".7" fill="#000" stroke="#000" stroke-width=".3">HO</text>
<text transform="translate(1460.24 688.09) rotate(-75)" y="6.7" text-anchor="middle" font-family="'DejaVu Sans','Liberation Sans',sans-serif" font-size="18.4" letter-spacing=".7" fill="#000" stroke="#000" stroke-width=".3">CO</text>
<text transform="translate(1482.8 651.33) rotate(-45)" y="6.7" text-anchor="middle" font-family="'DejaVu Sans','Liberation Sans',sans-serif" font-size="18.4" letter-spacing=".7" fill="#000" stroke="#000" stroke-width=".3">EN</text>
<text transform="translate(1519.4 628.5) rotate(-15)" y="6.7" text-anchor="middle" font-family="'DejaVu Sans','Liberation Sans',sans-serif" font-size="18.4" letter-spacing=".7" fill="#000" stroke="#000" stroke-width=".3">WA</text>
<g transform="translate(1545.3 480.2) rotate(0)" text-anchor="middle" font-family="'DejaVu Sans','Liberation Sans',sans-serif" font-size="18.3" fill="#fff" stroke="#fff" stroke-width=".25"><text y="-4.5">climate</text><text y="16.5">change</text></g>
<g transform="translate(1688.19 537.91) rotate(40)" text-anchor="middle" font-family="'DejaVu Sans','Liberation Sans',sans-serif" font-size="18.3" fill="#000" stroke="#000" stroke-width=".25"><text y="-4.5">ocean</text><text y="16.5">acidification</text></g>
<g transform="translate(1769.75 674.26) rotate(83)" text-anchor="middle" font-family="'DejaVu Sans','Liberation Sans',sans-serif" font-size="18.3" fill="#000" stroke="#000" stroke-width=".25"><text y="-4.5">chemical</text><text y="16.5">pollution</text></g>
<g transform="translate(1742.73 819.22) rotate(-61.3)" text-anchor="middle" font-family="'DejaVu Sans','Liberation Sans',sans-serif" font-size="18.3" fill="#fff" stroke="#fff" stroke-width=".25"><text y="-4.5">nutrient</text><text y="16.5">pollution</text></g>
<g transform="translate(1623.28 922.45) rotate(-20)" text-anchor="middle" font-family="'DejaVu Sans','Liberation Sans',sans-serif" font-size="18.3" fill="#000" stroke="#000" stroke-width=".25"><text y="-4.5">air</text><text y="16.5">pollution</text></g>
<g transform="translate(1464.31 919.19) rotate(20)" text-anchor="middle" font-family="'DejaVu Sans','Liberation Sans',sans-serif" font-size="18.3" fill="#000" stroke="#000" stroke-width=".25"><text y="-4.5">freshwater</text><text y="16.5">disruption</text></g>
<g transform="translate(1348.02 818.46) rotate(60)" text-anchor="middle" font-family="'DejaVu Sans','Liberation Sans',sans-serif" font-size="18.3" fill="#000" stroke="#000" stroke-width=".25"><text y="-4.5">land</text><text y="16.5">conversion</text></g>
<g transform="translate(1323.78 669.94) rotate(-80)" text-anchor="middle" font-family="'DejaVu Sans','Liberation Sans',sans-serif" font-size="18.3" fill="#000" stroke="#000" stroke-width=".25"><text y="-4.5">biodiversity</text><text y="16.5">breakdown</text></g>
<g transform="translate(1402.52 535.61) rotate(-40)" text-anchor="middle" font-family="'DejaVu Sans','Liberation Sans',sans-serif" font-size="18.3" fill="#000" stroke="#000" stroke-width=".25"><text y="-4.5">ozone layer</text><text y="16.5">depletion</text></g>
<g font-family="'DejaVu Sans','Liberation Sans',sans-serif" font-weight="bold" font-size="24.8" fill="#000">
<text x="153.2" y="1040.6" textLength="372" lengthAdjust="spacingAndGlyphs">poorest 40% of countries</text>
<text x="755.2" y="1040.6" textLength="360" lengthAdjust="spacingAndGlyphs">middle 40% of countries</text>
<text x="1365.6" y="1040.6" textLength="361" lengthAdjust="spacingAndGlyphs">richest 20% of countries</text>
</g>
<rect x="374.5" y="1082" width="1164" height="148" fill="#fff" stroke="#1a1a1a" stroke-width="2.4"/>
<g font-family="'DejaVu Sans','Liberation Sans',sans-serif" font-size="25.8" fill="#111" stroke="#111" stroke-width=".3">
<text x="396.5" y="1117">FO</text><text x="467" y="1116.3">food</text>
<text x="396.5" y="1149.7">HE</text><text x="467" y="1146.6">health</text>
<text x="396.5" y="1181.6">ED</text><text x="467" y="1181.6">education</text>
<text x="396.5" y="1215.3">IW</text><text x="467" y="1215.3">income &amp; work</text>
<text x="808" y="1117">WA</text><text x="900.5" y="1116">water</text>
<text x="808" y="1148">EN</text><text x="900.5" y="1147.5">energy</text>
<text x="808" y="1181.6">CO</text><text x="900.5" y="1181.6">connectivity</text>
<text x="808" y="1215.3">HO</text><text x="900.5" y="1214.4">housing</text>
<text x="1185" y="1114.7">EQ</text><text x="1282" y="1114.7">equality</text>
<text x="1185" y="1146.6">SC</text><text x="1282" y="1145">social cohesion</text>
<text x="1185" y="1181.6">PV</text><text x="1282" y="1179.4">political voice</text>
<text x="1185" y="1214.4">PJ</text><text x="1282" y="1213.1">peace &amp; justice</text>
</g>
</svg>
</body></html>
